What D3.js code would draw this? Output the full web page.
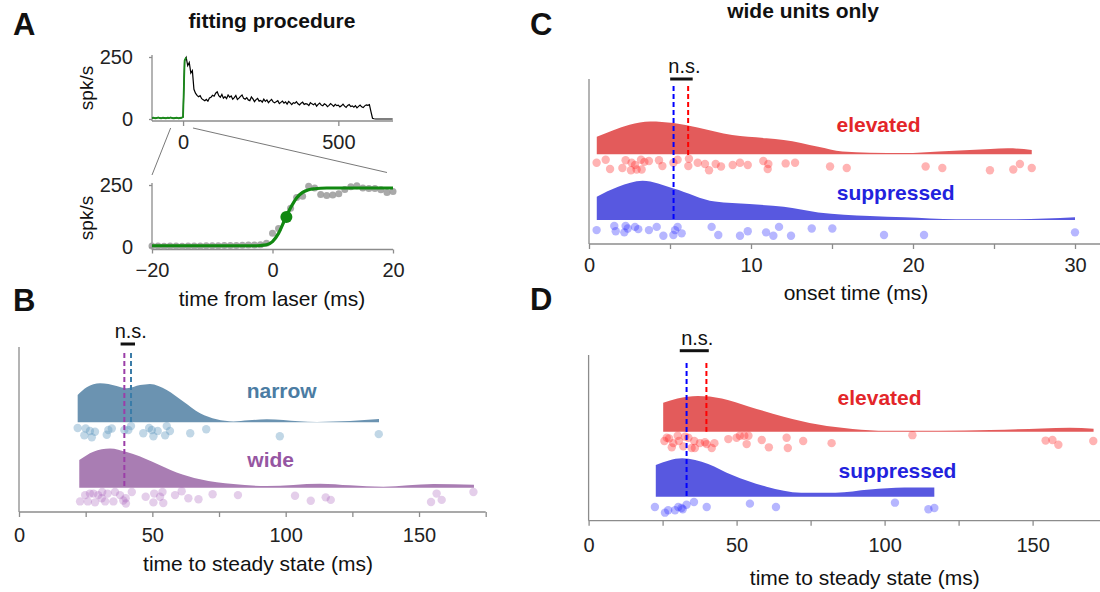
<!DOCTYPE html>
<html lang="en">
<head>
<meta charset="UTF-8">
<title>Fitting procedure and time to steady state</title>
<script src="https://d3js.org/d3.v7.min.js"></script>
<style>
  body { margin: 0; background: #fff; }
  svg { display: block; font-family: "Liberation Sans", Arial, sans-serif; }
  .axis line { stroke: #8c8c8c; stroke-width: 1.3; }
  .axis text { fill: #222; font-size: 20px; font-family: "Liberation Sans", Arial, sans-serif; }
</style>
</head>
<body>
<svg width="1100" height="592"></svg>
<script>
// ---------- data ----------
// A (top): example unit PSTH, 5 ms bins starting at -100 ms
const traceStart = -100, traceStep = 5;
const traceRate = [
  4, 5, 3, 4, 6, 4, 3, 5, 4, 3,
  5, 4, 6, 4, 3, 4, 5, 3, 4, 5,
  8, 235, 248, 215, 228, 185, 195, 120, 104, 95,
  90, 94, 82, 78, 74, 79, 72, 85, 88, 96,
  92, 104, 110, 94, 88, 99, 84, 90, 82, 97,
  88, 93, 80, 86, 95, 79, 84, 91, 97, 83,
  80, 86, 77, 74, 89, 81, 70, 78, 83, 72,
  75, 68, 80, 71, 77, 66, 73, 79, 69, 65,
  70, 74, 62, 67, 72, 64, 69, 60, 71, 65,
  58, 66, 63, 70, 61, 57, 64, 68, 59, 62,
  60, 54, 66, 61, 57, 63, 52, 59, 64, 56,
  53, 61, 58, 50, 55, 62, 57, 51, 59, 54,
  56, 49, 53, 60, 52, 47, 55, 58, 50, 53,
  48, 54, 45, 51, 56, 49, 46, 53, 57, 55,
  58, 30, 3, 1, 0, 0, 0, 0, 0, 0,
  0, 0, 0, 0, 0, 0
];
// A (bottom): 1 ms bins from -20 to 20 ms, and the sigmoid fit
const zoomStart = -20;
const zoomRate = [4, 4, 3, 4, 4, 3, 4, 4, 4, 5, 5, 5, 6, 6, 6, 7, 8, 8, 9, 15,
  55, 75, 120, 156, 200, 205, 245, 238, 212, 208, 210, 215, 232, 243, 247, 238, 236, 236, 231, 220, 224];
const fitRate = [5, 5, 5, 5, 5, 5, 5, 5, 5, 5, 5, 5, 5, 5, 5, 5, 5, 5, 6, 9,
  22, 55, 108, 158, 198, 220, 231, 235, 237, 238, 238, 238, 238, 238, 238, 238, 238, 238, 238, 238, 238];
const fitMid = [2.3, 121];

// B: time to steady state, narrow vs wide units
const narrowKdeX = [22.0, 25.4, 30.4, 36.6, 40.4, 45.4, 49.1, 55.4, 61.6, 67.9, 74.1, 80.4, 86.0, 92.9, 99.1, 105, 111.6, 124.1, 135];
const narrowKde  = [0.68, 0.875, 0.975, 0.91, 0.85, 0.93, 0.96, 0.81, 0.52, 0.225, 0.075, 0.02, 0.05, 0.075, 0.06, 0.025, 0.01, 0.03, 0.08];
const wideKdeX = [22.6, 27.9, 34.1, 40.4, 50, 59.1, 67.9, 80.4, 92.9, 112.9, 124.1, 136.6, 155.4, 170.6];
const wideKde  = [0.69, 0.9, 0.98, 0.89, 0.65, 0.38, 0.21, 0.09, 0.04, 0.1, 0.06, 0.025, 0.09, 0.075];
const narrowPts = [22.0, 25.0, 24.5, 26.6, 27.3, 28.5, 32.9, 33.5, 34.8, 39.5, 41.0, 42.0, 46.6, 48.8, 50.4, 49.8, 52.0, 54.8, 55.4, 56.6, 64.2, 70.2, 97.8, 134.9];
const narrowJit = [.21, .25, .82, .46, .98, .52, .77, .38, .25, .38, .38, .05, .64, .21, .9, .38, .46, .82, .05, .46, .64, .31, .9, .72];
const widePts = [22.9, 25.8, 26.6, 27.9, 28.5, 29.7, 31.0, 32.3, 33.2, 35.4, 36.0, 37.9, 40.0, 40.1, 42.3, 47.5, 50.4, 50.7, 52.9, 53.8,
  54.1, 58.5, 61.0, 63.5, 67.3, 72.6, 82.1, 103.5, 109.4, 115.0, 116.9, 154.5, 156.6, 158.5, 170.4, 24.8, 31.2, 39.1];
const wideJit = [.78, .78, .22, .22, .85, .33, .55, .78, .22, .78, .11, .33, .55, .93, .11, .45, .85, .22, .45, .11,
  .89, .33, .05, .55, .62, .27, .33, .38, .73, .49, .67, .82, .22, .67, .11, .33, .11, .71];
const medianB = { wide: 39.5, narrow: 42.0 };
const nsB = [38.1, 43.5];

// C: onset time, wide units, elevated vs suppressed
const elevOnKdeX = [0.48, 1.5, 2.5, 3.78, 5.22, 6.7, 8.84, 10.96, 12.02, 14.15, 15.64, 17.34, 19.47, 21.6, 24.78, 25.85, 27.33];
const elevOnKde  = [0.44, 0.6, 0.74, 0.82, 0.78, 0.67, 0.48, 0.4, 0.36, 0.19, 0.07, 0.04, 0.03, 0.07, 0.13, 0.15, 0.11];
const suppOnKdeX = [0.48, 1.8, 3.31, 5.22, 7.78, 9.9, 12.02, 14.15, 17.34, 19.47, 22.66, 25.85, 30.0];
const suppOnKde  = [0.58, 0.83, 0.98, 0.79, 0.46, 0.4, 0.33, 0.19, 0.1, 0.07, 0.02, 0.02, 0.07];
const elevOnPts = [0.47, 1.03, 1.30, 2.06, 2.26, 2.63, 2.59, 2.84, 2.94, 3.21, 3.42, 3.70, 3.25, 4.32, 4.53, 5.21, 5.47, 6.17, 6.13, 6.71,
  7.16, 7.41, 7.82, 8.15, 8.87, 9.32, 9.80, 10.76, 11.07, 11.03, 12.14, 12.72, 14.88, 15.91, 20.78, 21.81, 24.75, 26.19, 26.6, 27.33];
const elevOnJit = [.36, .1, .87, .79, .15, .36, .98, .54, .92, .1, .28, .21, .92, .15, .62, .36, .1, .02, .62, .36,
  .46, .98, .46, .67, .54, .36, .54, .21, .46, .87, .41, .36, .67, .79, .67, .79, .98, .92, .46, .79];
const suppOnPts = [0.47, 1.56, 1.65, 2.18, 2.26, 2.39, 2.84, 3.04, 3.70, 4.18, 4.59, 5.21, 5.31, 5.47, 5.72, 7.57, 7.98, 9.32, 9.80, 10.93,
  11.38, 11.73, 12.47, 13.75, 15.02, 18.21, 20.68, 30.0];
const suppOnJit = [.45, .06, .55, .66, .06, .3, .15, .36, .45, .15, .97, .91, .45, .15, .75, .15, .91, .97, .55, .66,
  .97, .15, .97, .3, .3, .91, .91, .66];
const medianC = { supp: 5.22, elev: 6.12 };
const nsC = [5.01, 6.4];

// D: time to steady state, wide units, elevated vs suppressed
const elevSsKdeX = [25.2, 30, 36.9, 45.0, 54.3, 65.9, 77.6, 89.2, 100.8, 118.3, 135.7, 153.2, 162.5, 170.6];
const elevSsKde  = [0.725, 0.83, 0.89, 0.83, 0.625, 0.375, 0.18, 0.07, 0.025, 0.025, 0.04, 0.08, 0.1, 0.075];
const suppSsKdeX = [22.7, 31.6, 40.4, 48.5, 60.1, 71.8, 83.4, 95.0, 106.7, 116.8];
const suppSsKde  = [0.79, 0.96, 0.82, 0.54, 0.25, 0.1, 0.1, 0.18, 0.23, 0.23];
const elevSsPts = [25.6, 26.4, 27.2, 28.1, 28.6, 30.1, 30.5, 32.0, 33.7, 34.8, 35.7, 35.9, 37.6, 39.3, 39.9, 41.6, 42.5, 47.2, 50.0, 51.1,
  52.6, 54.0, 53.4, 58.5, 60.9, 66.9, 67.3, 72.5, 82.1, 109.4, 154.4, 156.7, 158.7, 170.5, 32.6];
const elevSsJit = [.48, .24, .29, .95, .64, .09, .48, .88, .24, 1, .48, 1, .64, .57, .71, 1, .64, .34, .24, .09,
  .09, .09, .71, .41, .95, .24, 1, .48, .64, .05, .45, .41, .76, .48, .16];
const suppSsPts = [22.4, 25.8, 26.9, 29.2, 30.3, 31.4, 31.8, 33.1, 35.6, 39.9, 54.5, 63.3, 103.5, 114.8, 116.8];
const suppSsJit = [.45, .97, .75, .75, .45, .55, .66, .25, 0, .45, .15, .45, .06, .66, .55];
const medianD = { supp: 33.1, elev: 39.8 };
const nsD = [30.8, 40.6];

// ---------- drawing ----------
const svg = d3.select('svg');
const spine = '#8c8c8c';
const kdeH = d3.scaleLinear().domain([0, 1]).range([0, 40]);

function label(x, y, str, size, opts = {}) {
  const t = svg.append('text').attr('x', x).attr('y', y).text(str)
    .attr('font-size', size).attr('text-anchor', opts.anchor || 'middle')
    .attr('fill', opts.fill || '#111').attr('font-weight', opts.bold ? 'bold' : 'normal');
  if (opts.rotate) t.attr('transform', `rotate(-90,${x},${y})`);
  return t;
}

function spines(x, yTop, yBot, xEnd) {
  svg.append('line').attr('x1', x).attr('x2', x).attr('y1', yTop).attr('y2', yBot)
    .attr('stroke', spine).attr('stroke-width', 1.3);
  svg.append('line').attr('x1', x).attr('x2', xEnd).attr('y1', yBot).attr('y2', yBot)
    .attr('stroke', spine).attr('stroke-width', 1.3);
}

function bottomAxis(scale, y, ticks, labelEvery, pad) {
  svg.append('g').attr('class', 'axis').attr('transform', `translate(0,${y})`)
    .call(d3.axisBottom(scale).tickValues(ticks).tickSize(5).tickPadding(pad)
      .tickFormat(d => (Math.abs(d % labelEvery) < 1e-9 ? d3.format('')(d) : '')))
    .call(g => g.select('.domain').remove());
}

function kde(scale, xs, ds, base, fill) {
  const area = d3.area().curve(d3.curveMonotoneX)
    .x((d, i) => scale(xs[i])).y0(base).y1(d => base - kdeH(d));
  svg.append('path').datum(ds).attr('d', area).attr('fill', fill);
}

function dots(scale, xs, jit, top, bot, fill, op) {
  const jy = d3.scaleLinear().domain([0, 1]).range([top, bot]);
  svg.append('g').selectAll('circle').data(xs).join('circle')
    .attr('cx', d => scale(d)).attr('cy', (d, i) => jy(jit[i])).attr('r', 4.2)
    .attr('fill', fill).attr('fill-opacity', op);
}

function dashed(scale, v, top, bot, color) {
  svg.append('line').attr('x1', scale(v)).attr('x2', scale(v)).attr('y1', top).attr('y2', bot)
    .attr('stroke', color).attr('stroke-width', 2).attr('stroke-dasharray', '5,3');
}

function ns(scale, range, y) {
  svg.append('line').attr('x1', scale(range[0])).attr('x2', scale(range[1])).attr('y1', y).attr('y2', y)
    .attr('stroke', '#111').attr('stroke-width', 3);
  label((scale(range[0]) + scale(range[1])) / 2 + 3, y - 6, 'n.s.', 20);
}

// panel letters and titles
label(13, 35, 'A', 31, { bold: true, anchor: 'start' });
label(13, 311, 'B', 31, { bold: true, anchor: 'start' });
label(530, 35, 'C', 31, { bold: true, anchor: 'start' });
label(530, 310, 'D', 31, { bold: true, anchor: 'start' });
label(272, 28, 'fitting procedure', 21, { bold: true });
label(803, 18, 'wide units only', 21, { bold: true });

// ----- A top -----
const xTop = d3.scaleLinear().domain([-100, 676]).range([152, 393]);
const yTop = d3.scaleLinear().domain([0, 250]).range([119, 57]);
spines(152, 55, 121, 393);
bottomAxis(xTop, 121, [0, 500], 1, 9);
svg.append('g').attr('class', 'axis').attr('transform', 'translate(152,0)')
  .call(d3.axisLeft(yTop).tickValues([0, 250]).tickSize(3).tickPadding(16))
  .call(g => g.select('.domain').remove())
  .call(g => g.selectAll('text').attr('font-size', 17));
const traceT = traceRate.map((d, i) => traceStart + i * traceStep);
const traceLine = d3.line().x((d, i) => xTop(traceT[i])).y(d => yTop(d));
svg.append('path').datum(traceRate).attr('d', traceLine).attr('fill', 'none')
  .attr('stroke', '#000').attr('stroke-width', 1.2);
const greenN = traceT.filter(t => t <= 10).length;
svg.append('path').datum(traceRate.slice(0, greenN)).attr('d', traceLine).attr('fill', 'none')
  .attr('stroke', '#1a8a1a').attr('stroke-width', 1.8);
label(93, 88, 'spk/s', 19, { rotate: true });

// zoom connectors
svg.append('line').attr('x1', xTop(-40)).attr('y1', 128).attr('x2', 152).attr('y2', 175)
  .attr('stroke', '#555').attr('stroke-width', 0.8);
svg.append('line').attr('x1', xTop(32)).attr('y1', 128).attr('x2', 387).attr('y2', 172.5)
  .attr('stroke', '#555').attr('stroke-width', 0.8);

// ----- A bottom -----
const xBot = d3.scaleLinear().domain([-20, 20]).range([152, 393]);
const yBot = d3.scaleLinear().domain([0, 250]).range([247, 185]);
spines(152, 183, 249.5, 393);
svg.append('g').attr('class', 'axis').attr('transform', 'translate(0,249.5)')
  .call(d3.axisBottom(xBot).tickValues([-20, 0, 20]).tickSize(4).tickPadding(9).tickFormat(d3.format('')))
  .call(g => g.select('.domain').remove());
svg.append('g').attr('class', 'axis').attr('transform', 'translate(152,0)')
  .call(d3.axisLeft(yBot).tickValues([0, 250]).tickSize(3).tickPadding(16))
  .call(g => g.select('.domain').remove())
  .call(g => g.selectAll('text').attr('font-size', 17));
const zoomT = zoomRate.map((d, i) => zoomStart + i);
svg.append('g').selectAll('circle').data(zoomRate).join('circle')
  .attr('cx', (d, i) => xBot(zoomT[i])).attr('cy', d => yBot(d)).attr('r', 3.5)
  .attr('fill', '#9a9a9a').attr('fill-opacity', 0.85);
svg.append('path').datum(fitRate)
  .attr('d', d3.line().curve(d3.curveMonotoneX).x((d, i) => xBot(zoomT[i])).y(d => yBot(d)))
  .attr('fill', 'none').attr('stroke', '#118811').attr('stroke-width', 3.2);
svg.append('circle').attr('cx', xBot(fitMid[0])).attr('cy', yBot(fitMid[1])).attr('r', 6)
  .attr('fill', '#118811');
label(93, 218, 'spk/s', 19, { rotate: true });
label(272, 306, 'time from laser (ms)', 21);

// ----- B -----
const xB = d3.scaleLinear().domain([0, 175]).range([19, 485.7]);
spines(19, 347, 512, 485.7);
bottomAxis(xB, 512, d3.range(0, 176, 25), 50, 11);
kde(xB, narrowKdeX, narrowKde, 422.3, '#6b93b1');
kde(xB, wideKdeX, wideKde, 487.7, '#a97db3');
dots(xB, narrowPts, narrowJit, 425.5, 437.5, '#5b95bd', 0.38);
dots(xB, widePts, wideJit, 490.5, 504.5, '#a45cb8', 0.3);
dashed(xB, medianB.wide, 353, 488, '#9b3ea8');
dashed(xB, medianB.narrow, 353, 423, '#3b7ca8');
ns(xB, nsB, 344);
label(281.7, 398.3, 'narrow', 21, { bold: true, fill: '#4b7ca3' });
label(270.7, 466.7, 'wide', 21, { bold: true, fill: '#9656a2' });
label(258, 571, 'time to steady state (ms)', 21);

// ----- C -----
const xC = d3.scaleLinear().domain([0, 31.5]).range([589, 1099.3]);
spines(589, 79, 244, 1100);
bottomAxis(xC, 244, d3.range(0, 31, 5), 10, 9);
kde(xC, elevOnKdeX, elevOnKde, 154.3, '#e35b5b');
kde(xC, suppOnKdeX, suppOnKde, 220, '#5858e0');
dots(xC, elevOnPts, elevOnJit, 158.5, 170.5, '#ff2020', 0.34);
dots(xC, suppOnPts, suppOnJit, 225.3, 236, '#2a2aff', 0.34);
dashed(xC, medianC.supp, 86, 220, '#0000ff');
dashed(xC, medianC.elev, 86, 155, '#ff0000');
ns(xC, nsC, 79);
label(878.5, 132, 'elevated', 21, { bold: true, fill: '#e3262a' });
label(895.7, 200, 'suppressed', 21, { bold: true, fill: '#2222dd' });
label(856, 300, 'onset time (ms)', 21);

// ----- D -----
const xD = d3.scaleLinear().domain([0, 175]).range([588.6, 1106.6]);
spines(588.6, 355, 520.7, 1100);
bottomAxis(xD, 520.7, d3.range(0, 176, 25), 50, 12);
kde(xD, elevSsKdeX, elevSsKde, 431.7, '#e35b5b');
kde(xD, suppSsKdeX, suppSsKde, 496.7, '#5858e0');
dots(xD, elevSsPts, elevSsJit, 434.5, 448, '#ff2020', 0.34);
dots(xD, suppSsPts, suppSsJit, 502, 513, '#2a2aff', 0.34);
dashed(xD, medianD.supp, 363, 496.7, '#0000ff');
dashed(xD, medianD.elev, 363, 431.7, '#ff0000');
ns(xD, nsD, 350.7);
label(879.6, 405, 'elevated', 21, { bold: true, fill: '#e3262a' });
label(897.5, 478, 'suppressed', 21, { bold: true, fill: '#2222dd' });
label(864.8, 584.5, 'time to steady state (ms)', 21);
</script>
</body>
</html>
